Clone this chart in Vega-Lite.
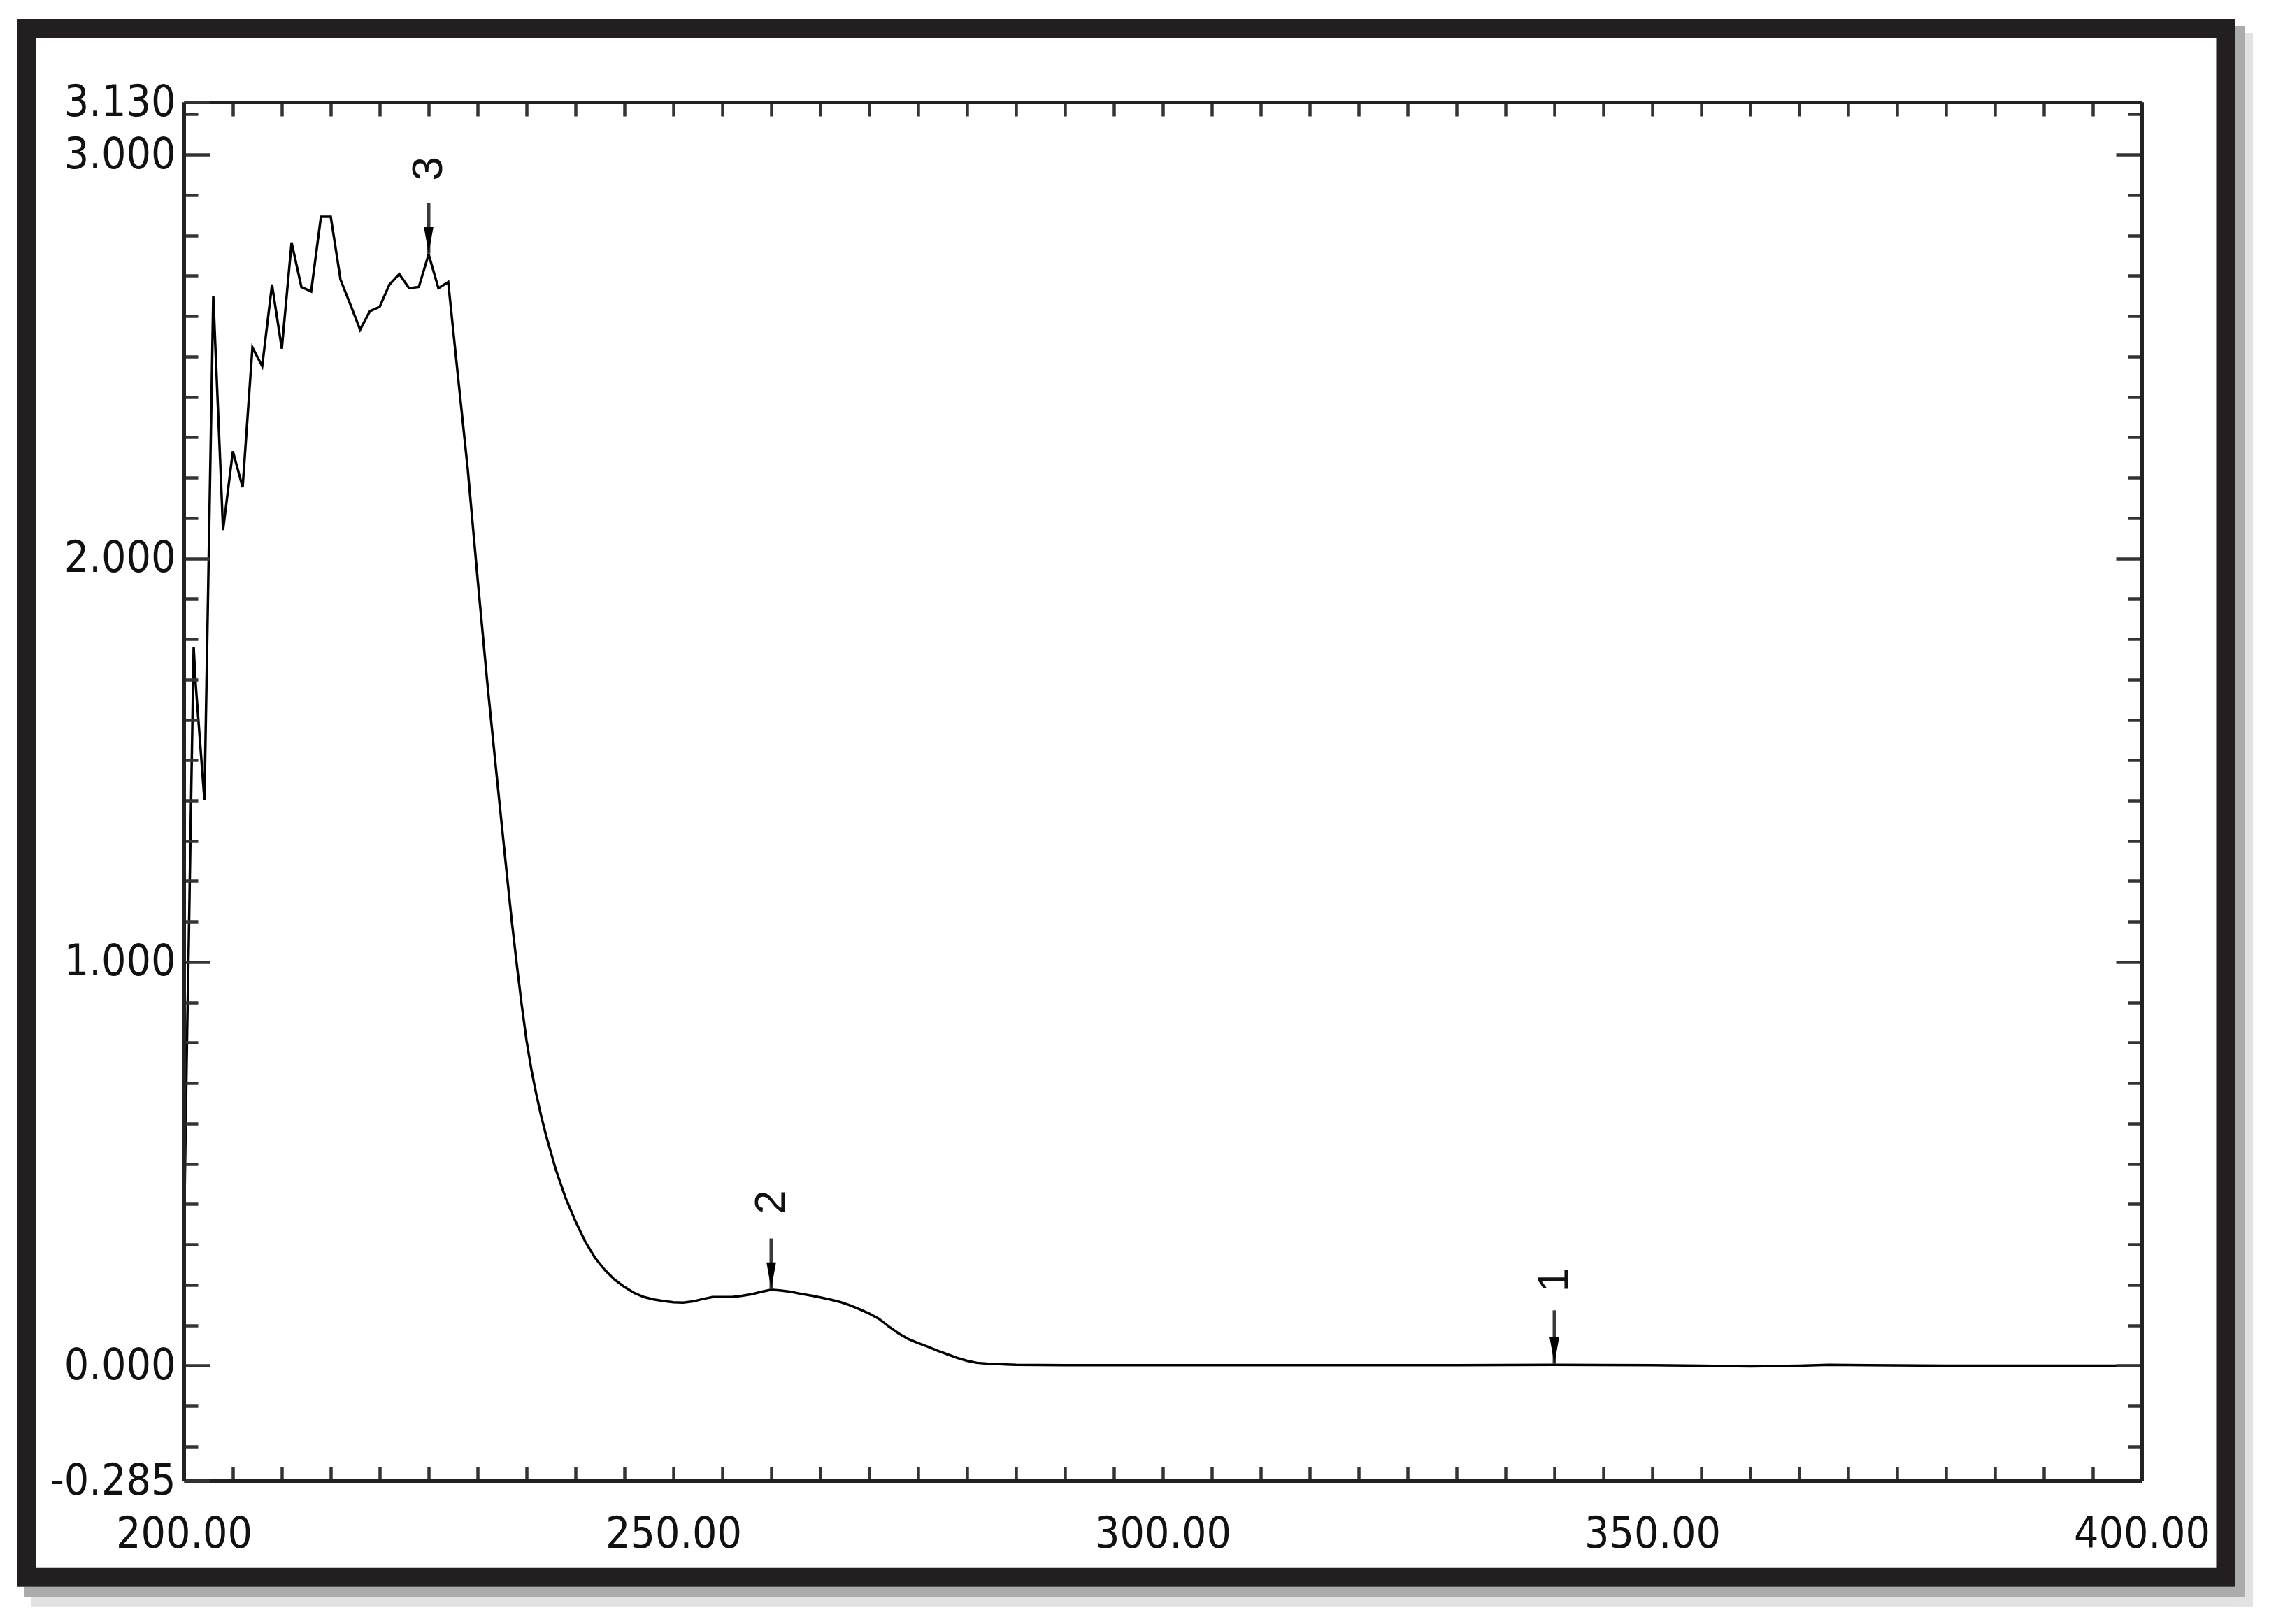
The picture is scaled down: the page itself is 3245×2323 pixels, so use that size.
{
  "$schema": "https://vega.github.io/schema/vega-lite/v6.json",
  "width": 2800,
  "height": 1972,
  "autosize": {"type": "none"},
  "padding": {"left": 263, "top": 146, "right": 182, "bottom": 205},
  "background": "white",
  "config": {
    "view": {"stroke": null},
    "axis": {
      "domainColor": "#222222",
      "domainWidth": 5,
      "tickColor": "#333333",
      "tickWidth": 4.5,
      "grid": false,
      "labelFont": "'Liberation Sans Narrow', 'DejaVu Sans Condensed', 'Liberation Sans', sans-serif",
      "labelFontSize": 62,
      "labelLimit": 600,
      "labelColor": "#111111"
    }
  },
  "datasets": {
    "spectrum": [
      {"nm": 200.0, "abs": 0.30}, {"nm": 200.3, "abs": 0.78}, {"nm": 200.5, "abs": 1.05}, {"nm": 200.7, "abs": 1.35},
      {"nm": 201.0, "abs": 1.78}, {"nm": 201.2, "abs": 1.69}, {"nm": 202.1, "abs": 1.40}, {"nm": 203, "abs": 2.65},
      {"nm": 204, "abs": 2.07}, {"nm": 205, "abs": 2.265}, {"nm": 206, "abs": 2.176}, {"nm": 207, "abs": 2.522},
      {"nm": 208, "abs": 2.476}, {"nm": 209, "abs": 2.678}, {"nm": 210, "abs": 2.519}, {"nm": 211, "abs": 2.782},
      {"nm": 212, "abs": 2.672}, {"nm": 213, "abs": 2.661}, {"nm": 214, "abs": 2.846}, {"nm": 215, "abs": 2.846},
      {"nm": 216, "abs": 2.69}, {"nm": 217, "abs": 2.629}, {"nm": 218, "abs": 2.566}, {"nm": 219, "abs": 2.612},
      {"nm": 220, "abs": 2.623}, {"nm": 221, "abs": 2.678}, {"nm": 222, "abs": 2.704}, {"nm": 223, "abs": 2.669},
      {"nm": 224, "abs": 2.672}, {"nm": 225, "abs": 2.753}, {"nm": 226, "abs": 2.669}, {"nm": 227, "abs": 2.684},
      {"nm": 228, "abs": 2.45}, {"nm": 229, "abs": 2.22}, {"nm": 230, "abs": 1.95}, {"nm": 231, "abs": 1.69},
      {"nm": 232, "abs": 1.45}, {"nm": 233, "abs": 1.215}, {"nm": 233.5, "abs": 1.10}, {"nm": 234, "abs": 0.995},
      {"nm": 234.5, "abs": 0.895}, {"nm": 235, "abs": 0.805}, {"nm": 235.5, "abs": 0.733}, {"nm": 236, "abs": 0.672},
      {"nm": 236.5, "abs": 0.618}, {"nm": 237, "abs": 0.570}, {"nm": 238, "abs": 0.485}, {"nm": 239, "abs": 0.415},
      {"nm": 240, "abs": 0.358}, {"nm": 241, "abs": 0.307}, {"nm": 242, "abs": 0.267}, {"nm": 243, "abs": 0.237},
      {"nm": 244, "abs": 0.213}, {"nm": 245, "abs": 0.195}, {"nm": 246, "abs": 0.18}, {"nm": 247, "abs": 0.17},
      {"nm": 248, "abs": 0.164}, {"nm": 249, "abs": 0.16}, {"nm": 250, "abs": 0.157}, {"nm": 251, "abs": 0.156},
      {"nm": 252, "abs": 0.159}, {"nm": 253, "abs": 0.165}, {"nm": 254, "abs": 0.17}, {"nm": 255, "abs": 0.17},
      {"nm": 256, "abs": 0.17}, {"nm": 257, "abs": 0.173}, {"nm": 258, "abs": 0.177}, {"nm": 259, "abs": 0.183},
      {"nm": 260, "abs": 0.188}, {"nm": 261, "abs": 0.186}, {"nm": 262, "abs": 0.183}, {"nm": 263, "abs": 0.178},
      {"nm": 264, "abs": 0.174}, {"nm": 265, "abs": 0.169}, {"nm": 266, "abs": 0.164}, {"nm": 267, "abs": 0.158},
      {"nm": 268, "abs": 0.150}, {"nm": 269, "abs": 0.140}, {"nm": 270, "abs": 0.129}, {"nm": 271, "abs": 0.116},
      {"nm": 272, "abs": 0.097}, {"nm": 273, "abs": 0.080}, {"nm": 274, "abs": 0.066}, {"nm": 275, "abs": 0.056},
      {"nm": 276, "abs": 0.047}, {"nm": 277, "abs": 0.037}, {"nm": 278, "abs": 0.028}, {"nm": 279, "abs": 0.019},
      {"nm": 280, "abs": 0.012}, {"nm": 281, "abs": 0.007}, {"nm": 282, "abs": 0.005}, {"nm": 283, "abs": 0.004},
      {"nm": 284, "abs": 0.003}, {"nm": 285, "abs": 0.002}, {"nm": 290, "abs": 0.001}, {"nm": 300, "abs": 0.001},
      {"nm": 310, "abs": 0.001}, {"nm": 320, "abs": 0.001}, {"nm": 330, "abs": 0.001}, {"nm": 340, "abs": 0.002},
      {"nm": 350, "abs": 0.001}, {"nm": 355, "abs": 0.0}, {"nm": 360, "abs": -0.002}, {"nm": 365, "abs": 0.0},
      {"nm": 368, "abs": 0.002}, {"nm": 372, "abs": 0.001}, {"nm": 380, "abs": 0.0}, {"nm": 390, "abs": 0.0},
      {"nm": 400, "abs": 0.0}
    ],
    "peaks": [
      {"peak": "3", "nm": 225, "label": 2.965, "top": 2.88, "tip": 2.755},
      {"peak": "2", "nm": 260, "label": 0.405, "top": 0.315, "tip": 0.19},
      {"peak": "1", "nm": 340, "label": 0.212, "top": 0.137, "tip": 0.004}
    ]
  },
  "resolve": {"axis": {"x": "independent", "y": "independent"}},
  "layer": [
    {
      "data": {"values": [{}]},
      "mark": {"type": "rect", "fill": "#e2e2e2"},
      "encoding": {
        "x": {"datum": 409.571, "type": "quantitative", "scale": {"domain": [200, 400], "nice": false, "zero": false}, "axis": null},
        "x2": {"datum": 411.357},
        "y": {"datum": 3.3016, "type": "quantitative", "scale": {"domain": [-0.285, 3.13], "nice": false, "zero": false}, "axis": null},
        "y2": {"datum": -0.5962}
      }
    },
    {
      "data": {"values": [{}]},
      "mark": {"type": "rect", "fill": "#e2e2e2"},
      "encoding": {
        "x": {"datum": 184.429, "type": "quantitative", "scale": {"domain": [200, 400], "nice": false, "zero": false}, "axis": null},
        "x2": {"datum": 411.357},
        "y": {"datum": -0.5477, "type": "quantitative", "scale": {"domain": [-0.285, 3.13], "nice": false, "zero": false}, "axis": null},
        "y2": {"datum": -0.5962}
      }
    },
    {
      "data": {"values": [{}]},
      "mark": {"type": "rect", "fill": "#ababab"},
      "encoding": {
        "x": {"datum": 409.571, "type": "quantitative", "scale": {"domain": [200, 400], "nice": false, "zero": false}, "axis": null},
        "x2": {"datum": 410.5},
        "y": {"datum": 3.3189, "type": "quantitative", "scale": {"domain": [-0.285, 3.13], "nice": false, "zero": false}, "axis": null},
        "y2": {"datum": -0.5737}
      }
    },
    {
      "data": {"values": [{}]},
      "mark": {"type": "rect", "fill": "#ababab"},
      "encoding": {
        "x": {"datum": 183.714, "type": "quantitative", "scale": {"domain": [200, 400], "nice": false, "zero": false}, "axis": null},
        "x2": {"datum": 410.5},
        "y": {"datum": -0.5477, "type": "quantitative", "scale": {"domain": [-0.285, 3.13], "nice": false, "zero": false}, "axis": null},
        "y2": {"datum": -0.5737}
      }
    },
    {
      "data": {"values": [{}]},
      "mark": {"type": "rect", "fill": null, "fillOpacity": 0, "stroke": "#231f20", "strokeWidth": 27},
      "encoding": {
        "x": {"datum": 183.96, "type": "quantitative", "scale": {"domain": [200, 400], "nice": false, "zero": false}, "axis": null},
        "x2": {"datum": 408.57},
        "y": {"datum": 3.3128, "type": "quantitative", "scale": {"domain": [-0.285, 3.13], "nice": false, "zero": false}, "axis": null},
        "y2": {"datum": -0.5243}
      }
    },
    {
      "data": {"name": "spectrum"},
      "mark": {"type": "line", "color": "#000000", "strokeWidth": 3.5},
      "encoding": {
        "x": {
          "field": "nm", "type": "quantitative",
          "scale": {"domain": [200, 400], "nice": false, "zero": false},
          "axis": {
            "orient": "bottom", "title": null, "zindex": 1,
            "values": [200, 205, 210, 215, 220, 225, 230, 235, 240, 245, 250, 255, 260, 265, 270, 275, 280, 285, 290, 295, 300, 305, 310, 315, 320, 325, 330, 335, 340, 345, 350, 355, 360, 365, 370, 375, 380, 385, 390, 395, 400],
            "tickSize": -20,
            "labelExpr": "datum.value % 50 === 0 ? format(datum.value, '.2f') : ''",
            "labelPadding": 66,
            "labelFlush": false,
            "labelOverlap": false,
            "labelBaseline": "top"
          }
        },
        "y": {
          "field": "abs", "type": "quantitative",
          "scale": {"domain": [-0.285, 3.13], "nice": false, "zero": false},
          "axis": {
            "orient": "left", "title": null, "zindex": 1,
            "values": [-0.285, 0, 1, 2, 3, 3.13],
            "tickSize": -37,
            "labelExpr": "datum.value < 0 ? '-' + format(-datum.value, '.3f') : format(datum.value, '.3f')",
            "labelPadding": 49,
            "labelFlush": false,
            "labelOverlap": false,
            "labelBaseline": "middle"
          }
        }
      }
    },
    {
      "data": {"name": "peaks"},
      "mark": {"type": "rule", "color": "#3a3a3a", "strokeWidth": 5},
      "encoding": {
        "x": {
          "field": "nm", "type": "quantitative",
          "scale": {"domain": [200, 400], "nice": false, "zero": false},
          "axis": {
            "orient": "top", "title": null, "labels": false, "zindex": 1,
            "values": [205, 210, 215, 220, 225, 230, 235, 240, 245, 250, 255, 260, 265, 270, 275, 280, 285, 290, 295, 300, 305, 310, 315, 320, 325, 330, 335, 340, 345, 350, 355, 360, 365, 370, 375, 380, 385, 390, 395],
            "tickSize": -20
          }
        },
        "y": {
          "field": "top", "type": "quantitative",
          "scale": {"domain": [-0.285, 3.13], "nice": false, "zero": false},
          "axis": {
            "orient": "left", "title": null, "labels": false, "zindex": 1,
            "values": [-0.2, -0.1, 0.1, 0.2, 0.3, 0.4, 0.5, 0.6, 0.7, 0.8, 0.9, 1.1, 1.2, 1.3, 1.4, 1.5, 1.6, 1.7, 1.8, 1.9, 2.1, 2.2, 2.3, 2.4, 2.5, 2.6, 2.7, 2.8, 2.9, 3.1],
            "tickSize": -20
          }
        },
        "y2": {"field": "tip"}
      }
    },
    {
      "data": {"name": "peaks"},
      "mark": {"type": "point", "shape": "M-0.36,-2L0.36,-2L0,0Z", "filled": true, "color": "#000000", "size": 1444, "opacity": 1},
      "encoding": {
        "x": {"field": "nm", "type": "quantitative", "scale": {"domain": [200, 400], "nice": false, "zero": false}, "axis": null},
        "y": {
          "field": "tip", "type": "quantitative",
          "scale": {"domain": [-0.285, 3.13], "nice": false, "zero": false},
          "axis": {
            "orient": "right", "title": null, "labels": false, "zindex": 1,
            "values": [0, 1, 2, 3],
            "tickSize": -37
          }
        }
      }
    },
    {
      "data": {"name": "peaks"},
      "mark": {"type": "text", "angle": 270, "align": "center", "baseline": "middle", "font": "Liberation Sans", "fontSize": 62, "color": "#111111"},
      "encoding": {
        "x": {"field": "nm", "type": "quantitative", "scale": {"domain": [200, 400], "nice": false, "zero": false}, "axis": null},
        "y": {
          "field": "label", "type": "quantitative",
          "scale": {"domain": [-0.285, 3.13], "nice": false, "zero": false},
          "axis": {
            "orient": "right", "title": null, "labels": false, "zindex": 1,
            "values": [-0.2, -0.1, 0.1, 0.2, 0.3, 0.4, 0.5, 0.6, 0.7, 0.8, 0.9, 1.1, 1.2, 1.3, 1.4, 1.5, 1.6, 1.7, 1.8, 1.9, 2.1, 2.2, 2.3, 2.4, 2.5, 2.6, 2.7, 2.8, 2.9, 3.1],
            "tickSize": -20
          }
        },
        "text": {"field": "peak", "type": "nominal"}
      }
    }
  ]
}
